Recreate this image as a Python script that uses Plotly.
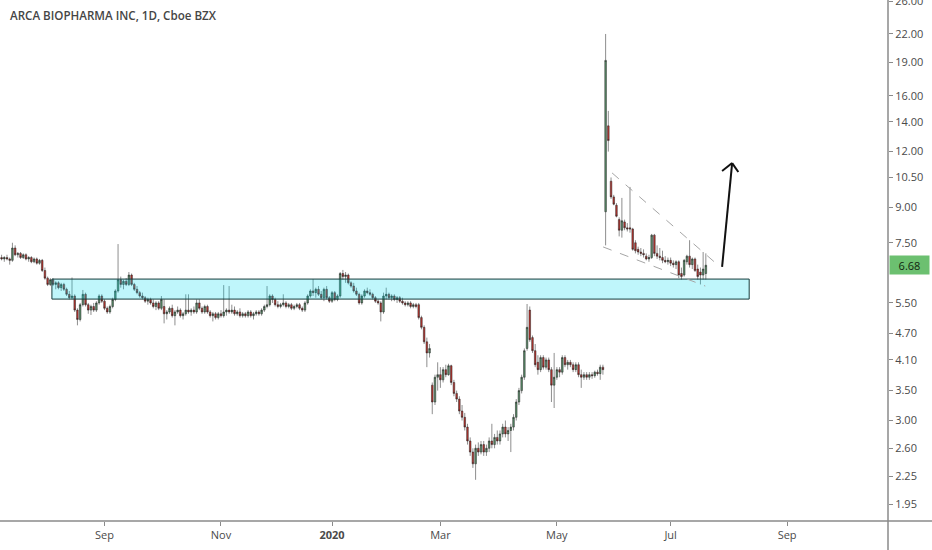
import math
import pandas as pd
import plotly.graph_objects as go

# chart title and market holidays (no bars on these days)
title = "ARCA BIOPHARMA INC, 1D, Cboe BZX"
holidays = ["2019-09-02", "2019-11-28", "2019-12-25", "2020-01-01", "2020-01-20",
            "2020-02-17", "2020-04-10", "2020-05-25", "2020-07-03", "2020-09-07"]

# daily OHLC, first bar 2019-07-10
opens = [6.95, 6.90, 6.95, 6.90, 6.85, 7.30, 7.05, 7.10, 6.95, 7.05,
         6.90, 6.95, 6.80, 6.90, 6.75, 6.85, 6.50, 6.25, 6.05, 6.20,
         6.05, 6.10, 5.95, 6.05, 5.90, 5.75, 5.65, 5.70, 5.30, 5.05,
         5.45, 5.75, 5.45, 5.30, 5.40, 5.30, 5.50, 5.70, 5.55, 5.35,
         5.25, 5.40, 5.60, 5.85, 6.20, 6.05, 6.15, 6.05, 6.35, 6.05,
         5.90, 5.80, 5.70, 5.65, 5.55, 5.60, 5.50, 5.40, 5.50, 5.35,
         5.40, 5.20, 5.25, 5.35, 5.15, 5.25, 5.30, 5.15, 5.20, 5.30,
         5.25, 5.30, 5.25, 5.50, 5.35, 5.25, 5.40, 5.25, 5.15, 5.20,
         5.10, 5.20, 5.15, 5.25, 5.30, 5.25, 5.30, 5.20, 5.25, 5.15,
         5.20, 5.15, 5.25, 5.15, 5.20, 5.25, 5.20, 5.30, 5.40, 5.45,
         5.70, 5.60, 5.45, 5.40, 5.45, 5.50, 5.40, 5.45, 5.35, 5.40,
         5.45, 5.35, 5.30, 5.50, 5.70, 5.85, 5.80, 5.90, 5.75, 5.65,
         5.90, 5.65, 5.55, 5.80, 5.60, 5.70, 6.40, 6.30, 6.35, 6.10,
         6.00, 5.85, 5.75, 5.50, 5.70, 5.85, 5.80, 5.75, 5.65, 5.55,
         5.50, 5.25, 5.70, 5.75, 5.65, 5.70, 5.60, 5.65, 5.55, 5.50,
         5.45, 5.50, 5.40, 5.45, 5.45, 5.10, 4.85, 4.50, 4.25, 3.60,
         3.30, 3.75, 3.80, 3.70, 3.90, 3.80, 3.98, 3.65, 3.45, 3.35,
         3.15, 3.05, 2.90, 2.70, 2.55, 2.40, 2.60, 2.55, 2.65, 2.55,
         2.60, 2.70, 2.65, 2.75, 2.70, 2.80, 2.90, 2.80, 2.85, 2.90,
         3.05, 3.30, 3.50, 3.75, 4.35, 5.30, 4.60, 4.30, 4.05, 3.90,
         4.15, 3.95, 4.10, 3.90, 3.60, 3.75, 3.90, 3.85, 4.15, 4.00,
         4.05, 4.00, 3.90, 4.00, 3.80, 3.75, 3.80, 3.75, 3.80, 3.78,
         3.85, 3.82, 3.95, 8.80, 13.70, 10.30, 9.50, 9.10, 8.45, 8.00,
         8.35, 8.10, 8.10, 8.05, 7.50, 7.25, 7.15, 7.10, 7.00, 6.90,
         6.95, 7.80, 7.10, 7.00, 6.95, 6.85, 6.80, 6.85, 6.75, 6.70,
         6.80, 6.40, 6.35, 6.80, 7.00, 6.70, 6.90, 6.55, 6.45, 6.35, 6.40]
highs = [7.05, 7.00, 7.05, 6.95, 7.50, 7.40, 7.15, 7.15, 7.10, 7.10,
         7.00, 7.00, 6.95, 6.95, 6.90, 6.90, 6.60, 6.30, 6.25, 6.25,
         6.15, 6.15, 6.10, 6.10, 5.95, 5.85, 6.27, 5.75, 5.35, 5.50,
         5.88, 5.80, 5.50, 5.45, 5.50, 5.55, 5.75, 5.75, 5.60, 5.40,
         5.45, 5.65, 5.90, 7.45, 6.30, 6.20, 6.25, 6.45, 6.40, 6.10,
         6.00, 5.85, 5.80, 5.70, 5.65, 5.65, 5.60, 5.55, 5.55, 5.70,
         5.60, 5.30, 5.40, 5.45, 5.30, 5.40, 5.35, 5.25, 5.75, 5.75,
         5.35, 5.40, 5.60, 5.60, 5.40, 5.45, 5.45, 5.30, 5.25, 5.25,
         5.25, 5.30, 6.03, 5.35, 6.00, 5.45, 5.40, 5.30, 5.35, 5.25,
         5.25, 5.30, 5.30, 5.25, 5.30, 5.30, 5.35, 5.45, 6.00, 5.75,
         5.75, 5.65, 5.55, 5.50, 5.75, 5.55, 5.50, 5.50, 5.45, 5.50,
         5.50, 5.40, 5.55, 5.75, 5.90, 6.22, 5.95, 6.00, 5.85, 5.95,
         6.00, 5.70, 5.85, 5.85, 5.75, 6.45, 6.52, 6.45, 6.40, 6.15,
         6.10, 5.95, 5.80, 5.75, 5.90, 5.95, 5.90, 5.80, 5.70, 5.60,
         5.55, 5.80, 5.95, 5.80, 5.75, 5.75, 5.70, 5.70, 5.65, 5.55,
         5.55, 5.55, 5.50, 5.50, 5.50, 5.15, 4.90, 4.60, 4.45, 3.65,
         3.80, 4.05, 3.95, 3.95, 4.00, 4.02, 4.00, 3.70, 3.50, 3.40,
         3.25, 3.12, 2.95, 2.75, 2.60, 2.65, 2.68, 2.70, 2.70, 2.65,
         2.75, 2.95, 2.80, 2.85, 2.85, 2.95, 3.00, 2.90, 2.95, 3.10,
         3.35, 3.55, 3.80, 4.35, 5.47, 5.40, 4.65, 4.45, 4.20, 4.20,
         4.20, 4.15, 4.15, 3.95, 4.25, 3.95, 3.95, 4.20, 4.20, 4.10,
         4.10, 4.05, 4.05, 4.05, 3.90, 3.85, 3.85, 3.85, 3.85, 3.88,
         3.90, 4.00, 4.00, 22.00, 14.80, 10.50, 9.60, 9.20, 8.55, 9.45,
         8.45, 8.30, 10.00, 8.10, 7.60, 7.35, 7.30, 7.25, 7.10, 7.05,
         7.85, 7.85, 7.40, 7.30, 7.20, 7.00, 6.95, 6.95, 6.85, 6.85,
         6.85, 6.60, 6.90, 7.05, 7.60, 6.95, 6.95, 6.70, 6.60, 7.15, 7.10]
lows = [6.85, 6.80, 6.85, 6.70, 6.80, 7.00, 6.95, 6.90, 6.90, 6.85,
        6.80, 6.75, 6.75, 6.70, 6.70, 6.45, 6.20, 6.00, 6.00, 6.00,
        5.90, 5.90, 5.85, 5.85, 5.70, 5.60, 5.60, 5.25, 4.90, 5.00,
        5.40, 5.40, 5.20, 5.17, 5.25, 5.25, 5.45, 5.50, 5.30, 5.20,
        5.20, 5.35, 5.55, 5.80, 5.95, 5.90, 6.00, 6.00, 6.00, 5.85,
        5.75, 5.65, 5.60, 5.50, 5.45, 5.45, 5.35, 5.30, 5.30, 5.30,
        4.95, 5.05, 5.20, 5.10, 4.90, 5.20, 5.10, 5.05, 5.15, 5.20,
        5.15, 5.20, 5.20, 5.30, 5.20, 5.20, 5.20, 5.10, 5.00, 5.05,
        5.05, 5.10, 5.10, 5.15, 5.20, 5.20, 5.15, 5.15, 5.10, 5.10,
        5.10, 5.10, 5.10, 5.05, 5.15, 5.15, 5.15, 5.25, 5.35, 5.40,
        5.50, 5.40, 5.35, 5.35, 5.40, 5.35, 5.35, 5.30, 5.30, 5.35,
        5.30, 5.25, 5.25, 5.45, 5.65, 5.70, 5.65, 5.70, 5.60, 5.55,
        5.60, 5.50, 5.50, 5.55, 5.55, 5.65, 6.20, 6.10, 6.05, 5.95,
        5.80, 5.70, 5.45, 5.45, 5.65, 5.75, 5.70, 5.60, 5.50, 5.45,
        5.00, 5.20, 5.60, 5.60, 5.55, 5.55, 5.50, 5.50, 5.45, 5.40,
        5.40, 5.35, 5.35, 5.35, 5.05, 4.80, 4.45, 3.95, 4.15, 3.10,
        3.25, 3.50, 3.55, 3.65, 3.75, 3.78, 3.60, 3.40, 3.30, 3.10,
        3.00, 2.85, 2.65, 2.50, 2.35, 2.21, 2.50, 2.52, 2.50, 2.50,
        2.55, 2.60, 2.60, 2.65, 2.65, 2.75, 2.75, 2.70, 2.55, 2.85,
        3.00, 3.25, 3.45, 3.70, 4.30, 4.50, 4.25, 3.95, 3.80, 3.85,
        3.90, 3.90, 3.85, 3.30, 3.20, 3.70, 3.75, 3.80, 3.95, 3.90,
        3.95, 3.85, 3.85, 3.75, 3.55, 3.70, 3.70, 3.70, 3.72, 3.74,
        3.78, 3.70, 3.80, 7.40, 12.00, 9.40, 9.10, 8.55, 7.75, 7.70,
        8.00, 7.95, 7.90, 7.20, 7.10, 7.05, 7.00, 6.95, 6.85, 6.80,
        6.90, 7.00, 6.90, 6.85, 6.75, 6.75, 6.70, 6.65, 6.60, 6.55,
        6.25, 6.20, 6.30, 6.70, 6.60, 6.55, 6.45, 6.20, 6.05, 6.20, 6.20]
closes = [6.90, 6.95, 6.90, 6.85, 7.30, 7.05, 7.10, 6.95, 7.05, 6.90,
          6.95, 6.80, 6.90, 6.75, 6.85, 6.50, 6.25, 6.05, 6.20, 6.05,
          6.10, 5.95, 6.05, 5.90, 5.75, 5.65, 5.70, 5.30, 5.05, 5.45,
          5.75, 5.45, 5.30, 5.40, 5.30, 5.50, 5.70, 5.55, 5.35, 5.25,
          5.40, 5.60, 5.85, 6.20, 6.05, 6.15, 6.05, 6.35, 6.05, 5.90,
          5.80, 5.70, 5.65, 5.55, 5.60, 5.50, 5.40, 5.50, 5.35, 5.60,
          5.20, 5.25, 5.35, 5.15, 5.25, 5.30, 5.15, 5.20, 5.30, 5.25,
          5.30, 5.25, 5.50, 5.35, 5.25, 5.40, 5.25, 5.15, 5.20, 5.10,
          5.20, 5.15, 5.25, 5.30, 5.25, 5.30, 5.20, 5.25, 5.15, 5.20,
          5.15, 5.25, 5.15, 5.20, 5.25, 5.20, 5.30, 5.40, 5.45, 5.70,
          5.60, 5.45, 5.40, 5.45, 5.50, 5.40, 5.45, 5.35, 5.40, 5.45,
          5.35, 5.30, 5.50, 5.70, 5.85, 5.80, 5.90, 5.75, 5.65, 5.90,
          5.65, 5.55, 5.80, 5.60, 5.70, 6.40, 6.30, 6.35, 6.10, 6.00,
          5.85, 5.75, 5.50, 5.70, 5.85, 5.80, 5.75, 5.65, 5.55, 5.50,
          5.25, 5.70, 5.75, 5.65, 5.70, 5.60, 5.65, 5.55, 5.50, 5.45,
          5.50, 5.40, 5.45, 5.40, 5.10, 4.85, 4.50, 4.25, 4.35, 3.30,
          3.75, 3.80, 3.70, 3.90, 3.80, 3.98, 3.65, 3.45, 3.35, 3.15,
          3.05, 2.90, 2.70, 2.55, 2.40, 2.60, 2.55, 2.65, 2.55, 2.60,
          2.70, 2.65, 2.75, 2.70, 2.80, 2.90, 2.80, 2.85, 2.90, 3.05,
          3.30, 3.50, 3.75, 4.30, 4.85, 4.55, 4.30, 4.00, 3.90, 4.15,
          3.95, 4.10, 3.90, 3.60, 3.75, 3.90, 3.85, 4.15, 4.00, 4.05,
          4.00, 3.90, 4.00, 3.80, 3.75, 3.80, 3.75, 3.80, 3.78, 3.85,
          3.82, 3.95, 3.90, 19.20, 12.70, 9.50, 9.15, 8.60, 8.00, 8.40,
          8.10, 8.05, 8.05, 7.25, 7.20, 7.15, 7.10, 7.05, 6.90, 6.95,
          7.80, 7.10, 7.00, 6.95, 6.85, 6.80, 6.85, 6.75, 6.70, 6.80,
          6.35, 6.30, 6.85, 7.00, 6.70, 6.90, 6.50, 6.30, 6.35, 6.55, 6.68]

dates = pd.bdate_range("2019-07-10", periods=len(closes), freq="C", holidays=holidays)

month_ticks = ["2019-09-03", "2019-11-01", "2020-01-02", "2020-03-02",
               "2020-05-01", "2020-07-01", "2020-09-01"]
month_labels = ["Sep", "Nov", "<b>2020</b>", "Mar", "May", "Jul", "Sep"]
# 6.20 sits under the last-price label, so it is left out
price_ticks = [1.95, 2.25, 2.60, 3.00, 3.50, 4.10, 4.70, 5.50, 7.50,
               9.00, 10.50, 12.00, 14.00, 16.00, 19.00, 22.00, 26.00]
last_price = 6.68

# drawings: support zone, wedge lines, arrow
zone_x = ["2019-08-05 14:00", "2020-08-12"]
zone_y = [5.61, 6.22]
wedge_top_x = ["2020-06-01 09:00", "2020-07-28 07:00"]
wedge_top_y = [10.75, 6.62]
wedge_bot_x = ["2020-05-27 02:00", "2020-07-20 19:00"]
wedge_bot_y = [7.34, 6.00]
arrow_x = ["2020-07-29", "2020-08-03 17:00", "2020-07-29", "2020-08-06"]
arrow_y = [6.62, 11.31, 10.86, 10.80]

font = "Open Sans"
txt = "#4a4a4a"
axis_c = "#8a8a8a"

fig = go.Figure()
fig.add_trace(go.Candlestick(x=dates, open=opens, high=highs, low=lows, close=closes,
                             increasing=dict(line=dict(color="#1c1c1c", width=0.5), fillcolor="#5a8f6a"),
                             decreasing=dict(line=dict(color="#1c1c1c", width=0.5), fillcolor="#bb3630"),
                             whiskerwidth=0, showlegend=False))

shapes = [
    dict(type="rect", xref="x", yref="y", x0=zone_x[0], x1=zone_x[1], y0=zone_y[0], y1=zone_y[1],
         fillcolor="rgba(0,220,240,0.25)", line=dict(color="#163c3c", width=1), layer="above"),
    dict(type="line", xref="x", yref="y", x0=wedge_top_x[0], x1=wedge_top_x[1],
         y0=wedge_top_y[0], y1=wedge_top_y[1], line=dict(color="#a6a6a6", width=1, dash="dash")),
    dict(type="line", xref="x", yref="y", x0=wedge_bot_x[0], x1=wedge_bot_x[1],
         y0=wedge_bot_y[0], y1=wedge_bot_y[1], line=dict(color="#a6a6a6", width=1, dash="dash")),
    dict(type="line", xref="x", yref="y", x0=arrow_x[0], x1=arrow_x[1],
         y0=arrow_y[0], y1=arrow_y[1], line=dict(color="#111111", width=2)),
    dict(type="line", xref="x", yref="y", x0=arrow_x[2], x1=arrow_x[1],
         y0=arrow_y[2], y1=arrow_y[1], line=dict(color="#111111", width=2)),
    dict(type="line", xref="x", yref="y", x0=arrow_x[3], x1=arrow_x[1],
         y0=arrow_y[3], y1=arrow_y[1], line=dict(color="#111111", width=2)),
    # axis lines run to the edges of the page like on TradingView
    dict(type="line", xref="paper", yref="paper", x0=0, x1=932 / 888, y0=0, y1=0,
         line=dict(color=axis_c, width=1.5)),
    dict(type="line", xref="paper", yref="paper", x0=1, x1=1, y0=-29 / 521, y1=1,
         line=dict(color=axis_c, width=1.5)),
]

fig.update_layout(
    width=932, height=550,
    margin=dict(l=0, r=44, t=0, b=29),
    plot_bgcolor="white", paper_bgcolor="white",
    boxgap=0.15,
    shapes=shapes,
    xaxis=dict(type="date", range=["2019-07-09 10:00", "2020-10-23 06:00"],
               rangebreaks=[dict(bounds=["sat", "mon"]), dict(values=holidays)],
               rangeslider=dict(visible=False),
               tickvals=month_ticks, ticktext=month_labels,
               ticks="outside", ticklen=4, tickcolor=axis_c,
               showgrid=False, zeroline=False, showline=False,
               tickfont=dict(family=font, size=11, color=txt)),
    yaxis=dict(type="log", side="right", range=[0.2522, 1.4185],
               tickvals=price_ticks, ticktext=[f"{v:.2f}" for v in price_ticks],
               ticks="outside", ticklen=4, tickcolor=axis_c, ticklabeloverflow="allow",
               showgrid=False, zeroline=False, showline=False, automargin=False,
               tickfont=dict(family=font, size=11, color=txt)),
    annotations=[
        dict(text=title, xref="paper", yref="paper", x=8 / 888, y=1 - 15 / 521,
             xanchor="left", yanchor="middle", showarrow=False,
             font=dict(family=font, size=11.6, color="#454545", weight=600)),
        dict(text=f"{last_price:.2f}", xref="paper", yref="y", x=1, y=math.log10(last_price),
             xanchor="left", yanchor="middle", xshift=1, showarrow=False,
             width=37, height=16, bgcolor="#6cc070",
             font=dict(family=font, size=11, color="#10260f")),
    ],
)

# page has a default 8px body margin; drop it so the chart sits at the corner
fig.write_html("out.html", config={"displayModeBar": False},
               post_script="document.body.style.margin='0';")
